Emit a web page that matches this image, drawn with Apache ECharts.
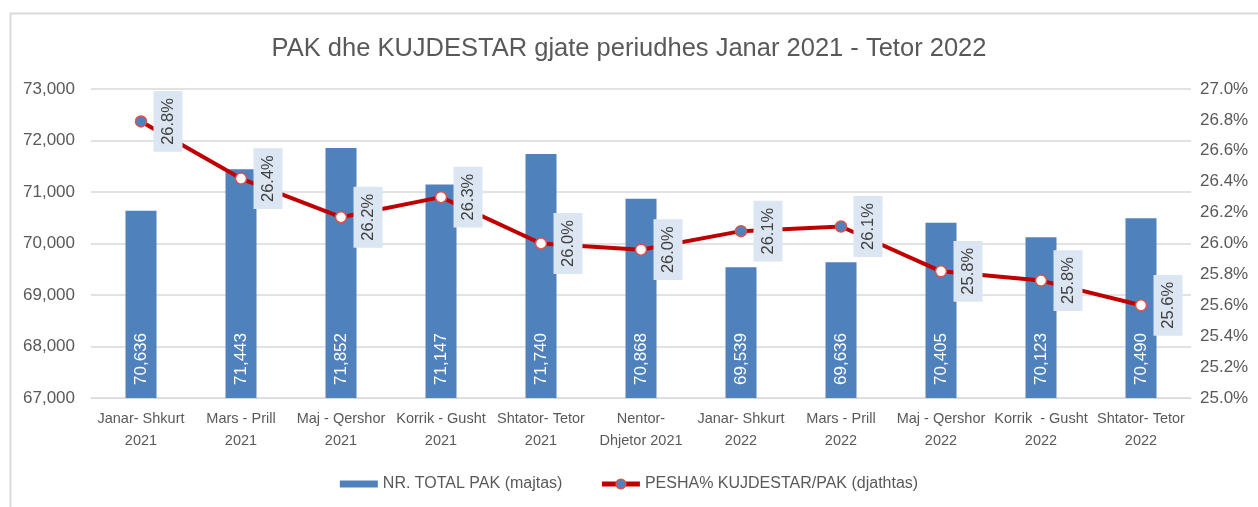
<!DOCTYPE html>
<html>
<head>
<meta charset="utf-8">
<script src="https://cdn.jsdelivr.net/npm/echarts@6/dist/echarts.min.js"></script>
<style>
  html, body { margin: 0; padding: 0; background: #fff; }
  #chart { width: 1258px; height: 507px; }
</style>
</head>
<body>
<div id="chart"></div>
<script>
const categories = [
  'Janar- Shkurt\n2021', 'Mars - Prill\n2021', 'Maj - Qershor\n2021', 'Korrik - Gusht\n2021',
  'Shtator- Tetor\n2021', 'Nentor-\nDhjetor 2021', 'Janar- Shkurt\n2022', 'Mars - Prill\n2022',
  'Maj - Qershor\n2022', 'Korrik  - Gusht\n2022', 'Shtator- Tetor\n2022'
]
const totalPak = [70636, 71443, 71852, 71147, 71740, 70868, 69539, 69636, 70405, 70123, 70490]
const pesha = [26.79, 26.42, 26.17, 26.30, 26.00, 25.96, 26.08, 26.11, 25.82, 25.76, 25.60]
const peshaLabels = ['26.8%', '26.4%', '26.2%', '26.3%', '26.0%', '26.0%', '26.1%', '26.1%', '25.8%', '25.8%', '25.6%']
// which markers are drawn filled in the original
const filledMarker = [true, false, false, false, false, false, true, true, false, false, false]

const font = 'Liberation Sans, Arial, sans-serif'
const gray = '#595959'
const blue = '#4f81bd'
const red = '#c00000'

var myChart = echarts.init(document.getElementById('chart'))

myChart.setOption({
  animation: false,
  textStyle: { fontFamily: font },
  title: {
    text: 'PAK dhe KUJDESTAR gjate periudhes Janar 2021 - Tetor 2022',
    left: 'center',
    top: 31,
    textStyle: { fontSize: 25.5, fontWeight: 'normal', color: gray, fontFamily: font }
  },
  graphic: [
    {
      type: 'rect',
      left: 8,
      top: 11,
      shape: { width: 1400, height: 700 },
      style: { fill: 'none', stroke: '#d9d9d9', lineWidth: 2 },
      silent: true
    }
  ],
  legend: {
    top: 471,
    left: 'center',
    itemGap: 37,
    itemWidth: 38,
    itemHeight: 12,
    textStyle: { fontSize: 16, color: gray, fontFamily: font },
    data: [
      { name: 'NR. TOTAL PAK (majtas)', icon: 'path://M0,0H38V7H0Z' },
      {
        name: 'PESHA% KUJDESTAR/PAK (djathtas)',
        lineStyle: { width: 5, color: red },
        itemStyle: { color: blue, borderColor: '#d9534f', borderWidth: 1.5 }
      }
    ]
  },
  grid: {
    left: 91,
    right: 67,
    top: 89,
    bottom: 109,
    containLabel: false
  },
  xAxis: [
    {
      type: 'category',
      data: categories,
      axisLine: { show: true, lineStyle: { color: '#d9d9d9' } },
      axisTick: { show: false },
      axisLabel: {
        interval: 0,
        fontSize: 14.5,
        lineHeight: 22,
        color: gray,
        margin: 10
      }
    }
  ],
  yAxis: [
    {
      type: 'value',
      min: 67000,
      max: 73000,
      interval: 1000,
      axisLine: { show: false },
      axisTick: { show: false },
      splitLine: { lineStyle: { color: '#d9d9d9', width: 1.5 } },
      axisLabel: {
        fontSize: 17,
        color: gray,
        margin: 16,
        formatter: v => v.toLocaleString('en-US')
      }
    },
    {
      type: 'value',
      min: 25,
      max: 27,
      interval: 0.2,
      axisLine: { show: false },
      axisTick: { show: false },
      splitLine: { show: false },
      axisLabel: {
        fontSize: 17,
        color: gray,
        margin: 9,
        formatter: v => v.toFixed(1) + '%'
      }
    }
  ],
  series: [
    {
      name: 'NR. TOTAL PAK (majtas)',
      type: 'bar',
      barWidth: 31,
      itemStyle: { color: blue },
      label: {
        show: true,
        position: 'insideBottom',
        rotate: 90,
        align: 'left',
        verticalAlign: 'middle',
        distance: 13,
        fontSize: 17,
        color: '#fff',
        formatter: p => p.value.toLocaleString('en-US')
      },
      data: totalPak
    },
    {
      name: 'PESHA% KUJDESTAR/PAK (djathtas)',
      type: 'line',
      yAxisIndex: 1,
      symbol: 'circle',
      symbolSize: 11,
      lineStyle: { color: red, width: 4 },
      itemStyle: { color: blue, borderColor: '#d9534f', borderWidth: 1.5 },
      label: {
        show: true,
        position: 'inside',
        rotate: 90,
        align: 'center',
        verticalAlign: 'middle',
        offset: [0, 27],
        fontSize: 16.5,
        color: '#404040',
        backgroundColor: '#dce6f2',
        padding: [6, 7],
        formatter: p => peshaLabels[p.dataIndex]
      },
      z: 5,
      data: pesha.map((v, i) => ({
        value: v,
        itemStyle: { color: filledMarker[i] ? blue : '#fff' }
      }))
    }
  ]
})
</script>
</body>
</html>
